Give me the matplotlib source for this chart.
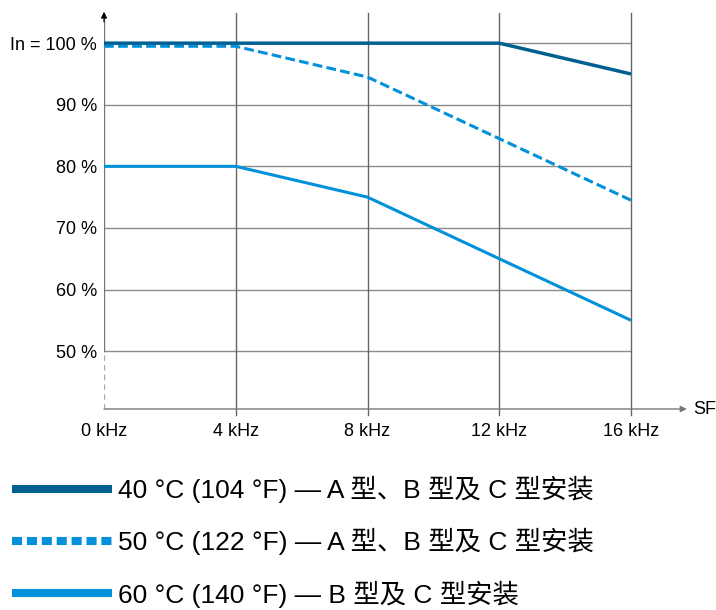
import matplotlib
matplotlib.use("Agg")
import matplotlib.pyplot as plt
from matplotlib.lines import Line2D

# data
freq_khz = [0, 4, 8, 12, 16]
freq_labels = ["0 kHz", "4 kHz", "8 kHz", "12 kHz", "16 kHz"]
pct_ticks = [50, 60, 70, 80, 90, 100]
pct_labels = ["50 %", "60 %", "70 %", "80 %", "90 %", "In = 100 %"]

curve_40c = [100, 100, 100, 100, 95]
curve_50c = [99.5, 99.5, 94.5, 84.5, 74.5]
curve_60c = [80, 80, 75, 65, 55]

labels = [
    "40 °C (104 °F) — A 型、B 型及 C 型安装",
    "50 °C (122 °F) — A 型、B 型及 C 型安装",
    "60 °C (140 °F) — B 型及 C 型安装",
]

dark_blue = "#00608f"
light_blue = "#0091da"
fonts = ["Liberation Sans", "Noto Sans CJK SC", "DejaVu Sans"]
plt.rcParams["font.family"] = fonts

fig = plt.figure(figsize=(7.16, 6.10), dpi=100)
W, H = 716, 610
ax = fig.add_axes([104 / W, 1 - 409 / H, (631 - 104) / W, (409 - 13) / H])
ax.set_xlim(0, 16)
ax.set_ylim(40.6, 104.9)
for s in ax.spines.values():
    s.set_visible(False)

# grid
for y in pct_ticks:
    ax.axhline(y, color="#8a8a8a", lw=1, zorder=1)
for x in freq_khz[1:]:
    ax.axvline(x, ymin=-0.016, ymax=1, color="#666666", lw=1, zorder=1, clip_on=False)

# axes with arrows
ax.plot([0, 0], [50, 104.9], color="#777777", lw=1, zorder=1)
ax.plot([0, 0], [40.6, 50], color="#aaaaaa", lw=1, ls=(0, (4, 3)), zorder=1)
ax.annotate("", xy=(0, 1.01), xytext=(0, 0.97), xycoords="axes fraction",
            arrowprops=dict(arrowstyle="-|>", color="black", lw=0.8, mutation_scale=9))
ax.annotate("", xy=(1.106, 0), xytext=(0, 0), xycoords="axes fraction",
            arrowprops=dict(arrowstyle="-|>", color="#777777", lw=1, mutation_scale=9,
                            shrinkA=0, shrinkB=0))
ax.text(1.118, 0, "SF", transform=ax.transAxes, fontsize=13, va="center", ha="left")

# curves
ax.plot(freq_khz, curve_40c, color=dark_blue, lw=2.5, zorder=4, solid_capstyle="butt")
ax.plot(freq_khz, curve_50c, color=light_blue, lw=2.2, zorder=3, dashes=(3.2, 1.4),
        dash_capstyle="butt")
ax.plot(freq_khz, curve_60c, color=light_blue, lw=2.2, zorder=3, solid_capstyle="butt")

ax.set_xticks(freq_khz, freq_labels, fontsize=13)
ax.set_yticks(pct_ticks, pct_labels, fontsize=13)
ax.tick_params(axis="x", length=0, pad=10)
ax.tick_params(axis="y", length=0, pad=5)

# legend
handles = [
    Line2D([], [], color=dark_blue, lw=5.8, solid_capstyle="butt"),
    Line2D([], [], color=light_blue, lw=5.8, dashes=(1.25, 0.6), dash_capstyle="butt"),
    Line2D([], [], color=light_blue, lw=5.8, solid_capstyle="butt"),
]
fig.legend(handles, labels, loc="upper left", bbox_to_anchor=(12 / W, 1 - 476 / H),
           frameon=False, fontsize=19, handlelength=3.8, handletextpad=0.2,
           labelspacing=0.95, borderpad=0, borderaxespad=0)

fig.savefig("out.png", dpi=100)
